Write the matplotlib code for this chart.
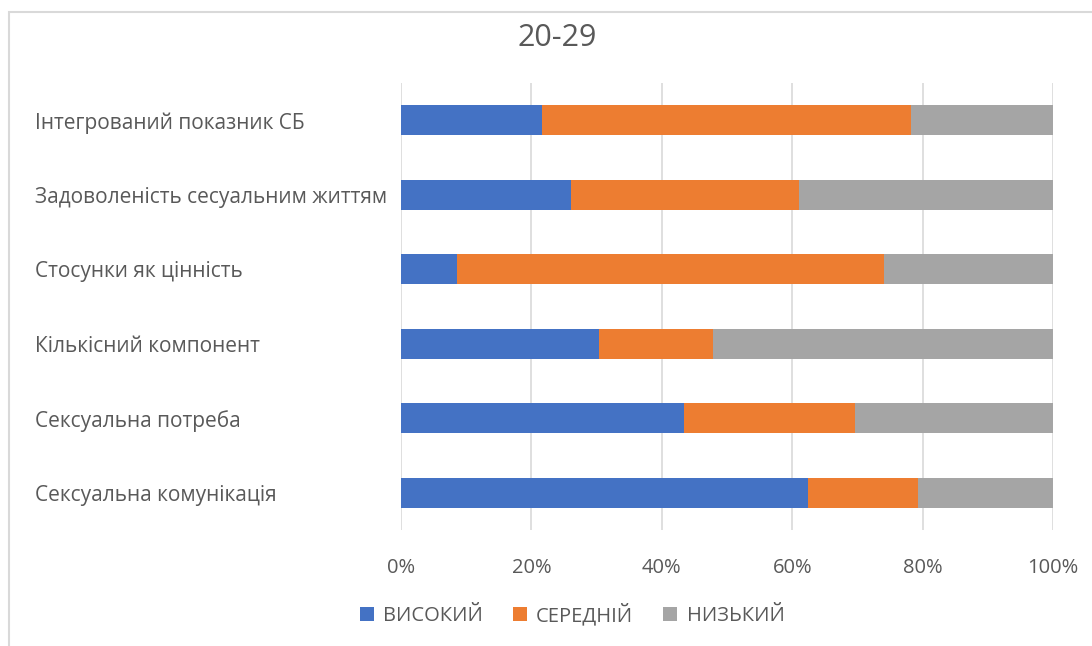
import matplotlib.pyplot as plt
from matplotlib.patches import Rectangle, Patch
import numpy as np

plt.rcParams['font.family'] = ['Open Sans', 'DejaVu Sans']

# categories, top to bottom as in the chart
categories = [
    'Інтегрований показник СБ',
    'Задоволеність сесуальним життям',
    'Стосунки як цінність',
    'Кількісний компонент',
    'Сексуальна потреба',
    'Сексуальна комунікація',
]
high = [21.6, 26.1, 8.6, 30.4, 43.4, 62.4]
mid = [56.6, 34.9, 65.5, 17.5, 26.2, 16.9]
low = [21.8, 39.0, 25.9, 52.1, 30.4, 20.7]
series_names = ['ВИСОКИЙ', 'СЕРЕДНІЙ', 'НИЗЬКИЙ']
colors = ['#4472C4', '#ED7D31', '#A5A5A5']
xticks = [0, 20, 40, 60, 80, 100]
xtick_labels = ['0%', '20%', '40%', '60%', '80%', '100%']

text_color = '#595959'
W, H = 1092, 646

fig = plt.figure(figsize=(W / 100, H / 100), dpi=100)
ax = fig.add_axes([401 / W, 1 - 530 / H, (1053 - 401) / W, (530 - 83) / H])

y = np.arange(len(categories))[::-1]
left = np.zeros(len(categories))
for vals, name, c in zip([high, mid, low], series_names, colors):
    ax.barh(y, vals, left=left, height=0.4, color=c, label=name, zorder=3)
    left = left + np.array(vals)

ax.set_xlim(0, 100)
ax.set_ylim(-0.5, len(categories) - 0.5)
ax.set_xticks(xticks)
ax.set_xticklabels(xtick_labels)
ax.set_yticks(y)
ax.set_yticklabels(categories, ha='left')
ax.tick_params(axis='y', length=0, pad=(401 - 35) * 0.72, labelsize=15, labelcolor=text_color)
ax.tick_params(axis='x', length=0, pad=20, labelsize=14.5, labelcolor=text_color)
ax.grid(axis='x', color='#D9D9D9', linewidth=1.2, zorder=0)
for s in ax.spines.values():
    s.set_visible(False)

fig.text(557 / W, 1 - 38 / H, '20-29', ha='center', va='center', fontsize=22, color=text_color)

handles = [Patch(facecolor=c, label=n) for c, n in zip(colors, series_names)]
fig.legend(handles=handles, loc='center', bbox_to_anchor=(572 / W, 1 - 615 / H), ncol=3, frameon=False,
           fontsize=14.5, labelcolor=text_color, handlelength=0.7, handleheight=0.7,
           handletextpad=0.45, columnspacing=1.5)

# chart border (only top and left edges visible in the crop)
fig.patches.append(Rectangle((9 / W, -0.1), 1.2, 1.1 - 12 / H, transform=fig.transFigure,
                             fill=False, edgecolor='#D9D9D9', linewidth=1.5))

fig.savefig('out.png', dpi=100, facecolor='white')
